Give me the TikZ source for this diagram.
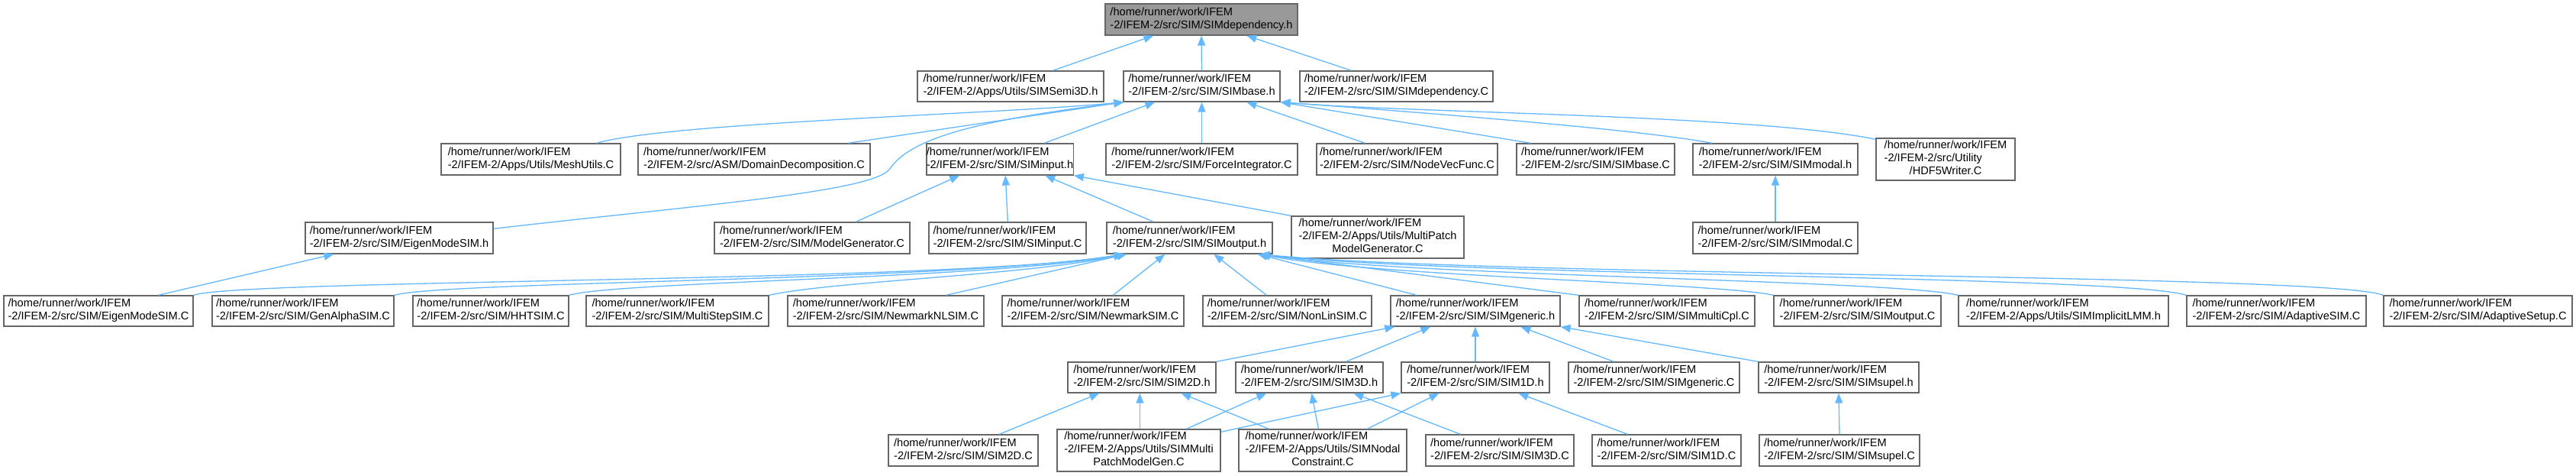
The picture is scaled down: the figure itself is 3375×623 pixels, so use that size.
\documentclass[tikz,border=0pt]{standalone}
\usepackage{fontspec}
\setmainfont{Liberation Sans}
\usetikzlibrary{arrows.meta}
\definecolor{edgec}{HTML}{63B8FF}
\definecolor{bordc}{HTML}{666666}
\definecolor{rootc}{HTML}{999999}
\tikzset{
  box/.style={draw=bordc, fill=white, line width=1.3pt, inner sep=0pt, font=\fontsize{14.6}{17}\selectfont},
  rootbox/.style={box, fill=rootc},
  dep/.style={draw=edgec, line width=1.3pt, -{Triangle[length=13pt,width=10pt]}},
}
\newcommand\pth[1]{\begin{tabular}{@{}l@{}}/home/runner/work/IFEM\\#1\end{tabular}}
\newcommand\three[3]{\begin{tabular}{@{}l@{}}#1\\#2\\\multicolumn{1}{@{}c@{}}{#3}\end{tabular}}
\newcommand\nd[7][box]{\node[#1,minimum width={#4-#3},minimum height={#6-#5}] (#2) at ({(#3+#4)/2},{(#5+#6)/2}) {#7};}
\begin{document}
\begin{tikzpicture}[x=1pt,y=-1pt]
\fill[white] (0,0) rectangle (3375,623);
\useasboundingbox (0,0) rectangle (3375,623);
% row 0
\nd[rootbox]{root}{1448}{1700}{5}{46}{\pth{-2/IFEM-2/src/SIM/SIMdependency.h}}
% row 1
\nd{semi}{1202}{1446}{93}{133}{\pth{-2/IFEM-2/Apps/Utils/SIMSemi3D.h}}
\nd{base}{1472}{1677}{93}{133}{\pth{-2/IFEM-2/src/SIM/SIMbase.h}}
\nd{depC}{1703}{1956}{93}{133}{\pth{-2/IFEM-2/src/SIM/SIMdependency.C}}
% row 2
\nd{mesh}{578}{813}{188}{229}{\pth{-2/IFEM-2/Apps/Utils/MeshUtils.C}}
\nd{domain}{836}{1140}{188}{229}{\pth{-2/IFEM-2/src/ASM/DomainDecomposition.C}}
\nd{input}{1217}{1403}{188}{229}{\pth{-2/IFEM-2/src/SIM/SIMinput.h}}
\nd{force}{1449}{1700}{188}{229}{\pth{-2/IFEM-2/src/SIM/ForceIntegrator.C}}
\nd{nodevec}{1725}{1962}{188}{229}{\pth{-2/IFEM-2/src/SIM/NodeVecFunc.C}}
\nd{baseC}{1987}{2194}{188}{229}{\pth{-2/IFEM-2/src/SIM/SIMbase.C}}
\nd{modal}{2218}{2434}{188}{229}{\pth{-2/IFEM-2/src/SIM/SIMmodal.h}}
\nd{hdf}{2458}{2640}{181}{236}{\three{/home/runner/work/IFEM}{-2/IFEM-2/src/Utility}{/HDF5Writer.C}}
% row 3
\nd{eigenh}{400}{646}{291}{332}{\pth{-2/IFEM-2/src/SIM/EigenModeSIM.h}}
\nd{modelgen}{936}{1192}{291}{332}{\pth{-2/IFEM-2/src/SIM/ModelGenerator.C}}
\nd{inputC}{1217}{1423}{291}{332}{\pth{-2/IFEM-2/src/SIM/SIMinput.C}}
\nd{output}{1450}{1667}{291}{332}{\pth{-2/IFEM-2/src/SIM/SIMoutput.h}}
\nd{mpmgen}{1692}{1918}{283}{338}{\three{/home/runner/work/IFEM}{-2/IFEM-2/Apps/Utils/MultiPatch}{ModelGenerator.C}}
\nd{modalC}{2218}{2434}{291}{332}{\pth{-2/IFEM-2/src/SIM/SIMmodal.C}}
% row 4
\nd{eigenC}{5}{253}{387}{427}{\pth{-2/IFEM-2/src/SIM/EigenModeSIM.C}}
\nd{genalpha}{278}{516}{387}{427}{\pth{-2/IFEM-2/src/SIM/GenAlphaSIM.C}}
\nd{hht}{541}{745}{387}{427}{\pth{-2/IFEM-2/src/SIM/HHTSIM.C}}
\nd{multistep}{768}{1007}{387}{427}{\pth{-2/IFEM-2/src/SIM/MultiStepSIM.C}}
\nd{newmarknl}{1032}{1289}{387}{427}{\pth{-2/IFEM-2/src/SIM/NewmarkNLSIM.C}}
\nd{newmark}{1313}{1551}{387}{427}{\pth{-2/IFEM-2/src/SIM/NewmarkSIM.C}}
\nd{nonlin}{1576}{1797}{387}{427}{\pth{-2/IFEM-2/src/SIM/NonLinSIM.C}}
\nd{generic}{1822}{2044}{387}{427}{\pth{-2/IFEM-2/src/SIM/SIMgeneric.h}}
\nd{multicpl}{2069}{2299}{387}{427}{\pth{-2/IFEM-2/src/SIM/SIMmultiCpl.C}}
\nd{outputC}{2324}{2543}{387}{427}{\pth{-2/IFEM-2/src/SIM/SIMoutput.C}}
\nd{implicit}{2566}{2841}{387}{427}{\pth{-2/IFEM-2/Apps/Utils/SIMImplicitLMM.h}}
\nd{adaptive}{2865}{3100}{387}{427}{\pth{-2/IFEM-2/src/SIM/AdaptiveSIM.C}}
\nd{adaptset}{3123}{3370}{387}{427}{\pth{-2/IFEM-2/src/SIM/AdaptiveSetup.C}}
% row 5
\nd{sdh}{1399}{1593}{474}{514}{\pth{-2/IFEM-2/src/SIM/SIM2D.h}}
\nd{tdh}{1619}{1812}{474}{514}{\pth{-2/IFEM-2/src/SIM/SIM3D.h}}
\nd{odh}{1836}{2030}{474}{514}{\pth{-2/IFEM-2/src/SIM/SIM1D.h}}
\nd{genericC}{2055}{2279}{474}{514}{\pth{-2/IFEM-2/src/SIM/SIMgeneric.C}}
\nd{supelh}{2304}{2514}{474}{514}{\pth{-2/IFEM-2/src/SIM/SIMsupel.h}}
% row 6
\nd{sdC}{1164}{1360}{569}{610}{\pth{-2/IFEM-2/src/SIM/SIM2D.C}}
\nd{mpg}{1385}{1599}{562}{617}{\three{/home/runner/work/IFEM}{-2/IFEM-2/Apps/Utils/SIMMulti}{PatchModelGen.C}}
\nd{nodal}{1623}{1843}{562}{617}{\three{/home/runner/work/IFEM}{-2/IFEM-2/Apps/Utils/SIMNodal}{Constraint.C}}
\nd{tdC}{1868}{2062}{569}{610}{\pth{-2/IFEM-2/src/SIM/SIM3D.C}}
\nd{odC}{2086}{2281}{569}{610}{\pth{-2/IFEM-2/src/SIM/SIM1D.C}}
\nd{supelC}{2305}{2515}{569}{610}{\pth{-2/IFEM-2/src/SIM/SIMsupel.C}}
% edges to root
\draw[dep] ([xshift=178pt]semi.north west) -- ([xshift=64pt]root.south west);
\draw[dep] (base.north) -- (root.south);
\draw[dep] ([xshift=68pt]depC.north west) -- ([xshift=186pt]root.south west);
% edges to SIMbase.h
\draw[dep] ([xshift=204pt]mesh.north west) .. controls (880,160) and (1300,150) .. ([xshift=1pt]base.south west);
\draw[dep] ([xshift=276pt]domain.north west) -- ([xshift=1pt]base.south west);
\draw[dep] ([yshift=-9pt]eigenh.north east) .. controls (900,270) and (1140,252) .. (1165,222) .. controls (1190,185) and (1260,160) .. ([xshift=1pt]base.south west);
\draw[dep] ([xshift=155pt]input.north west) -- ([xshift=42pt]base.south west);
\draw[dep] (force.north) -- (base.south);
\draw[dep] ([xshift=64pt]nodevec.north west) -- ([xshift=162pt]base.south west);
\draw[dep] ([xshift=19pt]baseC.north west) -- (base.south east);
\draw[dep] ([xshift=26pt]modal.north west) .. controls (2150,170) and (1900,150) .. (base.south east);
\draw[dep] ([yshift=-2pt]hdf.north west) .. controls (2300,150) and (1850,148) .. (base.south east);
% edges to SIMinput.h
\draw[dep] ([xshift=186pt]modelgen.north west) -- ([xshift=44pt]input.south west);
\draw[dep] ([xshift=104pt]inputC.north west) -- ([xshift=104pt]input.south west);
\draw[dep] ([xshift=62pt]output.north west) -- ([xshift=156pt]input.south west);
\draw[dep] (mpmgen.north west) -- (input.south east);
% SIMmodal, EigenModeSIM.h
\draw[dep] (modalC.north) -- (modal.south);
\draw[dep] ([xshift=203pt]eigenC.north west) -- ([xshift=38pt]eigenh.south west);
% edges to SIMoutput.h
\draw[dep] (eigenC.north east) .. controls (320,365) and (1250,370) .. ([xshift=23pt]output.south west);
\draw[dep] (genalpha.north east) .. controls (580,368) and (1250,368) .. ([xshift=23pt]output.south west);
\draw[dep] (hht.north east) .. controls (810,368) and (1300,365) .. ([xshift=23pt]output.south west);
\draw[dep] (multistep.north east) .. controls (1090,368) and (1350,360) .. ([xshift=23pt]output.south west);
\draw[dep] ([xshift=208pt]newmarknl.north west) -- ([xshift=27pt]output.south west);
\draw[dep] ([xshift=146pt]newmark.north west) -- ([xshift=77pt]output.south west);
\draw[dep] ([xshift=84pt]nonlin.north west) -- ([xshift=141pt]output.south west);
\draw[dep] ([xshift=35pt]generic.north west) -- ([xshift=-20pt]output.south east);
\draw[dep] (multicpl.north west) -- ([xshift=-18pt]output.south east);
\draw[dep] (outputC.north west) .. controls (2250,370) and (1800,362) .. ([xshift=-17pt]output.south east);
\draw[dep] (implicit.north west) .. controls (2480,366) and (1850,362) .. ([xshift=-17pt]output.south east);
\draw[dep] (adaptive.north west) .. controls (2780,360) and (1900,362) .. ([xshift=-17pt]output.south east);
\draw[dep] (adaptset.north west) .. controls (3050,358) and (1950,362) .. ([xshift=-17pt]output.south east);
% edges to SIMgeneric.h
\draw[dep] (sdh.north east) -- ([xshift=6pt]generic.south west);
\draw[dep] ([xshift=145pt]tdh.north west) -- ([xshift=53pt]generic.south west);
\draw[dep] (odh.north) -- (generic.south);
\draw[dep] ([xshift=60pt]genericC.north west) -- ([xshift=171pt]generic.south west);
\draw[dep] (supelh.north west) -- (generic.south east);
% bottom row
\draw[dep] ([xshift=146pt]sdC.north west) -- ([xshift=42pt]sdh.south west);
\draw[dep] ([xshift=109pt]mpg.north west) -- ([xshift=95pt]sdh.south west);
\draw[dep] ([xshift=40pt]nodal.north west) -- ([xshift=149pt]sdh.south west);
\draw[dep] ([xshift=170pt]mpg.north west) -- ([xshift=41pt]tdh.south west);
\draw[dep] ([xshift=105pt]nodal.north west) -- ([xshift=100pt]tdh.south west);
\draw[dep] ([xshift=46pt]tdC.north west) -- ([xshift=155pt]tdh.south west);
\draw[dep] ([yshift=-4pt]mpg.north east) -- (odh.south west);
\draw[dep] ([xshift=169pt]nodal.north west) -- ([xshift=50pt]odh.south west);
\draw[dep] ([xshift=47pt]odC.north west) -- ([xshift=154pt]odh.south west);
\draw[dep] (supelC.north) -- (supelh.south);
\end{tikzpicture}
\end{document}
